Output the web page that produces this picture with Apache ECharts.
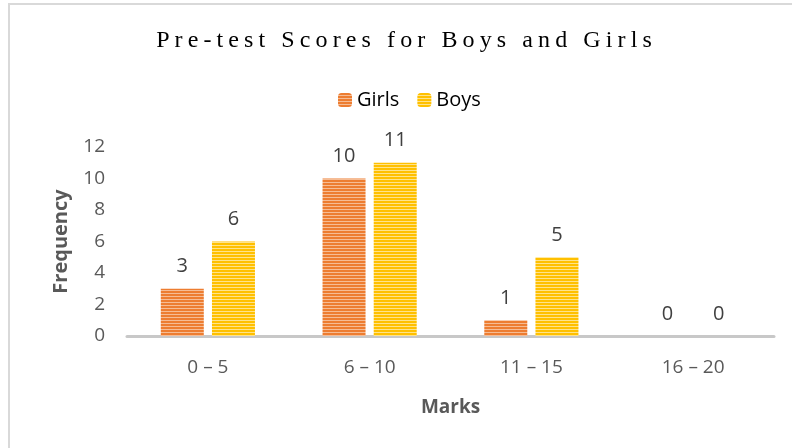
<!DOCTYPE html>
<html>
<head>
<meta charset="utf-8">
<script src="https://cdn.jsdelivr.net/npm/echarts@6/dist/echarts.min.js"></script>
<style>
html,body{margin:0;padding:0;background:#fff;}
#wrap{position:relative;width:792px;height:448px;}
#chart{position:absolute;left:0;top:0;width:792px;height:448px;}
#title{position:absolute;left:0;top:26px;width:813px;text-align:center;font-family:"Liberation Serif","DejaVu Serif",serif;font-size:24px;letter-spacing:5.1px;color:#000;white-space:nowrap;}
</style>
</head>
<body>
<div id="wrap">
<div id="chart"></div>
<div id="title">Pre-test Scores for Boys and Girls</div>
</div>
<script>
const categories = ['0 – 5', '6 – 10', '11 – 15', '16 – 20'];
const girls = [3, 10, 1, 0];
const boys = [6, 11, 5, 0];
const yTicks = { min: 0, max: 12, interval: 2 };

function stripes(dark, light) {
  const c = document.createElement('canvas');
  c.width = 4; c.height = 3;
  const g = c.getContext('2d');
  g.fillStyle = dark; g.fillRect(0, 0, 4, 2);
  g.fillStyle = light; g.fillRect(0, 2, 4, 1);
  return { image: c, repeat: 'repeat' };
}
const girlsFill = stripes('#ED7D31', '#F6BC94');
const boysFill = stripes('#FFC000', '#FFE38A');

const chart = echarts.init(document.getElementById('chart'), null, { renderer: 'canvas' });
const labelStyle = { show: true, position: 'top', distance: 12, color: '#404040', fontSize: 20, fontFamily: 'Open Sans' };
chart.setOption({
  animation: false,
  graphic: [{ type: 'rect', shape: { x: 9, y: 4, width: 800, height: 500 }, style: { fill: 'none', stroke: '#d9d9d9', lineWidth: 2 } }],
  legend: {
    top: 85, left: 333, itemWidth: 14, itemHeight: 14, itemGap: 18,
    textStyle: { color: '#000', fontSize: 20, fontFamily: 'Open Sans' },
    data: ['Girls', 'Boys']
  },
  grid: { left: 127, right: 18, top: 147, bottom: 112 },
  xAxis: {
    type: 'category', data: categories,
    name: 'Marks', nameLocation: 'middle', nameGap: 62,
    nameTextStyle: { color: '#595959', fontSize: 19, fontWeight: 'bold', fontFamily: 'Open Sans' },
    axisLine: { lineStyle: { color: '#c8c8c8', width: 3 } },
    axisTick: { show: false },
    axisLabel: { color: '#595959', fontSize: 19, margin: 22, fontFamily: 'Open Sans' }
  },
  yAxis: {
    type: 'value', min: yTicks.min, max: yTicks.max, interval: yTicks.interval,
    name: 'Frequency', nameLocation: 'middle', nameGap: 56,
    nameTextStyle: { color: '#595959', fontSize: 20, fontWeight: 'bold', fontFamily: 'Open Sans' },
    axisLine: { show: false }, axisTick: { show: false }, splitLine: { show: false },
    axisLabel: { color: '#595959', fontSize: 19, margin: 22, fontFamily: 'Open Sans' }
  },
  series: [
    { name: 'Girls', type: 'bar', data: girls, barWidth: 43, barGap: '19%', itemStyle: { color: girlsFill }, label: labelStyle },
    { name: 'Boys', type: 'bar', data: boys, barWidth: 43, barGap: '19%', itemStyle: { color: boysFill }, label: labelStyle }
  ]
});
</script>
</body>
</html>
